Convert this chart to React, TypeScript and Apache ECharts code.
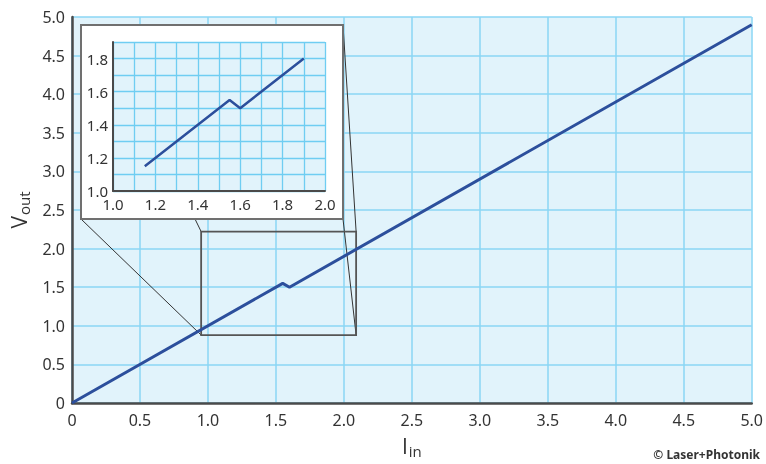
import React, { useEffect, useRef } from "react";
import * as echarts from "echarts";

// Main curve (I_in, V_out)
const mainX = [0, 1.55, 1.6, 5.0];
const mainY = [0, 1.55, 1.5, 4.9];
// Inset (zoomed) curve
const insetX = [1.15, 1.55, 1.6, 1.9];
const insetY = [1.15, 1.55, 1.5, 1.8];
// Zoom window on main chart (data coords)
const zoomXRange = [0.95, 2.09];
const zoomYRange = [0.88, 2.22];

const FONT = "Noto Sans";
const NAMEFONT = "Open Sans";
const BG = "#e1f3fb";
const GRIDC = "#8ad6f4";
const LINEC = "#2c4f9c";
const AXC = "#4a4a4a";

const fmt1 = (v: number) => (v === 0 ? "0" : v.toFixed(1));

const nameStyle = {
  fontFamily: NAMEFONT,
  color: "#333",
  fontSize: 21,
  rich: {
    a: { fontSize: 21, color: "#333", fontFamily: NAMEFONT },
    b: { fontSize: 15, color: "#333", fontFamily: NAMEFONT, verticalAlign: "bottom", padding: [10, 0, 0, 1] },
  },
};

export default function App() {
  const ref = useRef<HTMLDivElement>(null);
  useEffect(() => {
    if (!ref.current) return;
    const chart = echarts.init(ref.current, undefined, { renderer: "svg" });
    const mainData = mainX.map((x, i) => [x, mainY[i]]);
    const insetData = insetX.map((x, i) => [x, insetY[i]]);
    const inset = { left: 113, top: 42, width: 212, height: 149 };
    const box = { x: 81, y: 25, w: 262, h: 194 };
    chart.setOption({
      animation: false,
      textStyle: { fontFamily: FONT },
      grid: [
        { left: 71, width: 681, top: 17, height: 386, show: true, backgroundColor: BG, borderWidth: 0 },
        { ...inset, show: false },
      ],
      xAxis: [
        {
          type: "value", gridIndex: 0, min: 0, max: 5, interval: 0.5,
          name: "{a|I}{b|in}", nameLocation: "middle", nameGap: 30,
          nameTextStyle: nameStyle,
          axisLine: { show: true, lineStyle: { color: AXC, width: 2.5 } },
          axisTick: { show: false },
          axisLabel: { formatter: fmt1, fontSize: 16, color: "#333", margin: 9, fontFamily: FONT },
          splitLine: { show: true, lineStyle: { color: GRIDC, width: 1.5 } },
        },
        {
          type: "value", gridIndex: 1, min: 1.0, max: 2.0, interval: 0.1, z: 10,
          axisLine: { show: true, lineStyle: { color: AXC, width: 2 } },
          axisTick: { show: false },
          axisLabel: {
            formatter: (v: number) => (Math.round(v * 10) % 2 === 0 ? v.toFixed(1) : ""),
            fontSize: 15, color: "#333", margin: 5, fontFamily: FONT,
          },
          splitLine: { show: true, lineStyle: { color: "#6fcdf2", width: 1.3 } },
        },
      ],
      yAxis: [
        {
          type: "value", gridIndex: 0, min: 0, max: 5, interval: 0.5,
          name: "{a|V}{b|out}", nameLocation: "middle", nameGap: 41, nameRotate: 90,
          nameTextStyle: nameStyle,
          axisLine: { show: true, lineStyle: { color: AXC, width: 2.5 } },
          axisTick: { show: false },
          axisLabel: { formatter: fmt1, fontSize: 16, color: "#333", margin: 7, fontFamily: FONT },
          splitLine: { show: true, lineStyle: { color: GRIDC, width: 1.5 } },
        },
        {
          type: "value", gridIndex: 1, min: 1.0, max: 1.9, interval: 0.1, z: 10,
          axisLine: { show: true, lineStyle: { color: AXC, width: 2 } },
          axisTick: { show: false },
          axisLabel: {
            formatter: (v: number) => (Math.round(v * 10) % 2 === 0 && v < 1.85 ? v.toFixed(1) : ""),
            fontSize: 15, color: "#333", margin: 5, fontFamily: FONT,
          },
          splitLine: { show: true, lineStyle: { color: "#6fcdf2", width: 1.3 } },
        },
      ],
      series: [
        {
          type: "line", xAxisIndex: 0, yAxisIndex: 0, data: mainData, showSymbol: false, z: 3,
          lineStyle: { color: LINEC, width: 3 }, silent: true,
        },
        {
          type: "line", xAxisIndex: 1, yAxisIndex: 1, data: insetData, showSymbol: false, z: 12,
          lineStyle: { color: LINEC, width: 2.5 }, silent: true,
        },
      ],
    });

    const tl = chart.convertToPixel({ gridIndex: 0 }, [zoomXRange[0], zoomYRange[1]]) as number[];
    const br = chart.convertToPixel({ gridIndex: 0 }, [zoomXRange[1], zoomYRange[0]]) as number[];
    const thin = { stroke: "#333", lineWidth: 1 };
    chart.setOption({
      graphic: [
        { type: "line", z: 1, silent: true, shape: { x1: box.x, y1: box.y + box.h, x2: tl[0], y2: br[1] }, style: thin },
        { type: "line", z: 1, silent: true, shape: { x1: 195, y1: box.y + box.h, x2: tl[0], y2: tl[1] }, style: thin },
        { type: "line", z: 1, silent: true, shape: { x1: box.x + box.w, y1: box.y, x2: br[0], y2: tl[1] }, style: thin },
        { type: "line", z: 1, silent: true, shape: { x1: box.x + box.w, y1: box.y + box.h, x2: br[0], y2: br[1] }, style: thin },
        { type: "rect", z: 1, silent: true, shape: { x: tl[0], y: tl[1], width: br[0] - tl[0], height: br[1] - tl[1] }, style: { fill: "none", stroke: "#555", lineWidth: 1.8 } },
        { type: "rect", z: 5, silent: true, shape: { x: box.x, y: box.y, width: box.w, height: box.h }, style: { fill: "#fff", stroke: "#707070", lineWidth: 2 } },
        { type: "rect", z: 6, silent: true, shape: { x: inset.left, y: inset.top, width: inset.width, height: inset.height }, style: { fill: BG } },
        {
          type: "text", z: 10, silent: true, right: 6, top: 448,
          style: { text: "© Laser+Photonik", fontSize: 12, fontWeight: "bold", fill: "#333", fontFamily: FONT },
        },
      ],
    });
    return () => chart.dispose();
  }, []);
  return <div ref={ref} style={{ position: "fixed", left: 0, top: 0, width: 766, height: 464 }} />;
}
